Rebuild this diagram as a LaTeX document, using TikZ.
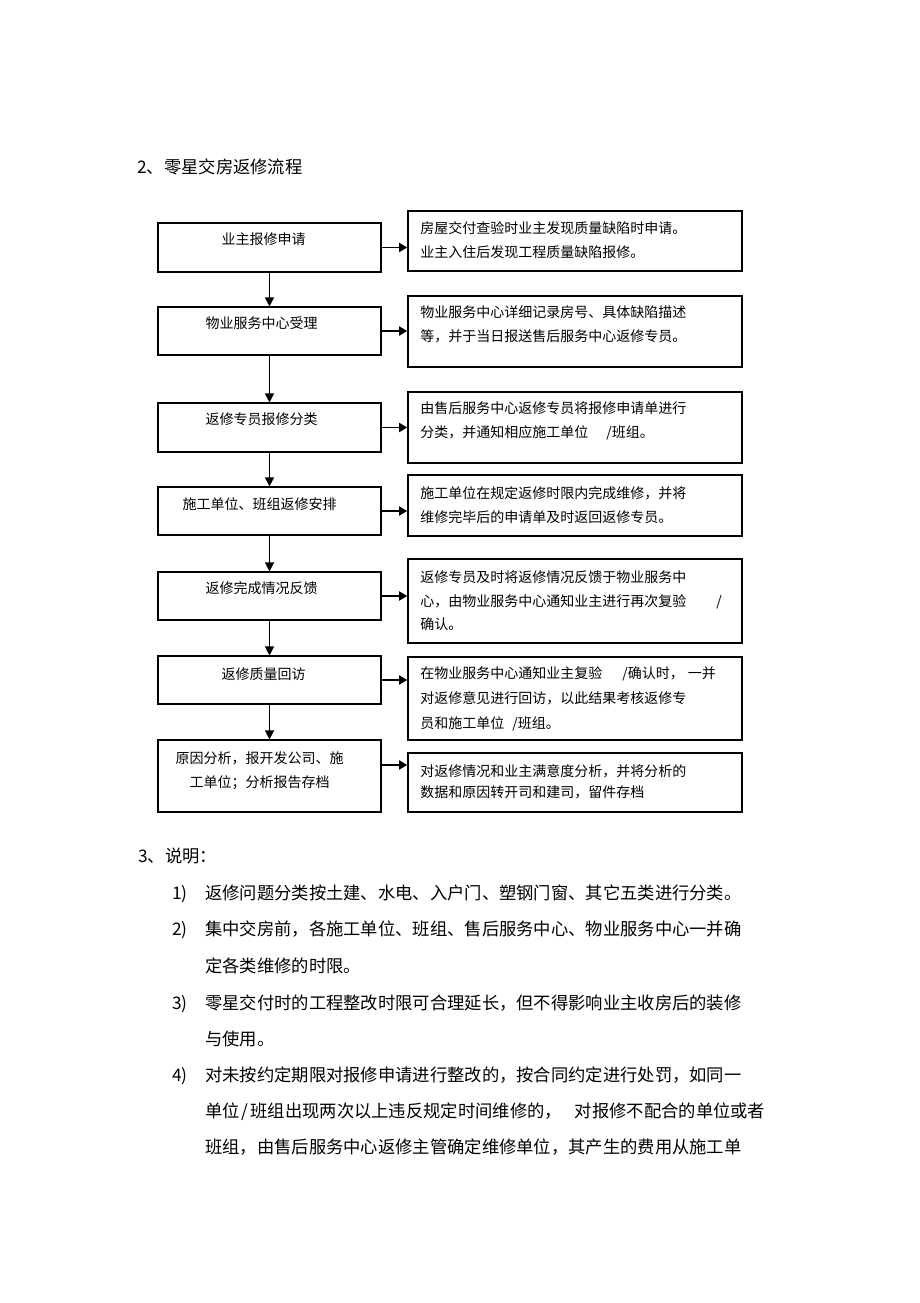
\documentclass[tikz,border=0pt]{standalone}
\usepackage{fontspec}
\setmainfont{Noto Sans CJK SC}
\usetikzlibrary{positioning,arrows.meta}

\tikzset{
  stepbox/.style={draw, line width=1.1pt, minimum width=223pt, inner sep=0pt},
  notebox/.style={draw, line width=1.6pt, minimum width=334pt, inner sep=0pt},
  steptext/.style={font=\fontsize{14pt}{24pt}\selectfont, align=center, inner sep=0pt},
  notetext/.style={font=\fontsize{14pt}{23.5pt}\selectfont, align=left, inner sep=0pt},
  headtext/.style={font=\fontsize{17.3pt}{20pt}\selectfont, inner sep=0pt, anchor=base west},
  downarrow/.style={line width=1.2pt, -{Triangle[length=9pt,width=9pt]}},
  sidearrow/.style={line width=1.8pt, -{Triangle[length=8pt,width=9pt]}}
}

\begin{document}
\begin{tikzpicture}[x=1pt, y=-1pt]
    \useasboundingbox (0,0) rectangle (920,1303);
    \fill [white] (0,0) rectangle (920,1303);

    % Title
    \node [headtext] (title) at (137,173.3) {2、零星交房返修流程};

    % Steps
    \node [stepbox, minimum height=49pt] (l1) at (269.5,247.5) {};
    \node [stepbox, minimum height=48pt] (l2) at (269.5,331) {};
    \node [stepbox, minimum height=49pt] (l3) at (269.5,427.5) {};
    \node [stepbox, minimum height=48pt] (l4) at (269.5,511) {};
    \node [stepbox, minimum height=48pt] (l5) at (269.5,596) {};
    \node [stepbox, minimum height=48pt] (l6) at (269.5,680) {};
    \node [stepbox, minimum height=72pt] (l7) at (269.5,776) {};

    \node [steptext, below=10.4pt of l1.north, xshift=-6pt] (lt1) {业主报修申请};
    \node [steptext, below=10.4pt of l2.north, xshift=-8pt] (lt2) {物业服务中心受理};
    \node [steptext, below=10.4pt of l3.north, xshift=-8pt] (lt3) {返修专员报修分类};
    \node [steptext, below=11.4pt of l4.north, xshift=-10pt] (lt4) {施工单位、班组返修安排};
    \node [steptext, below=10.4pt of l5.north, xshift=-8pt] (lt5) {返修完成情况反馈};
    \node [steptext, below=12.4pt of l6.north, xshift=-6pt] (lt6) {返修质量回访};
    \node [steptext, below=12.4pt of l7.north, xshift=-10pt] (lt7) {原因分析，报开发公司、施\\工单位；分析报告存档};

    % Remarks
    \node [notebox, minimum height=60pt] (r1) at (575,241) {};
    \node [notebox, minimum height=71pt] (r2) at (575,331.5) {};
    \node [notebox, minimum height=71pt] (r3) at (575,427.5) {};
    \node [notebox, minimum height=61pt] (r4) at (575,505.5) {};
    \node [notebox, minimum height=84pt] (r5) at (575,601) {};
    \node [notebox, minimum height=83pt] (r6) at (575,698.5) {};
    \node [notebox, minimum height=59pt] (r7) at (575,782.5) {};

    \node [notetext, below right=11.4pt and 13pt of r1.north west] (rt1) {房屋交付查验时业主发现质量缺陷时申请。\\业主入住后发现工程质量缺陷报修。};
    \node [notetext, below right=10.4pt and 13pt of r2.north west] (rt2) {物业服务中心详细记录房号、具体缺陷描述\\等，并于当日报送售后服务中心返修专员。};
    \node [notetext, below right=10.4pt and 13pt of r3.north west] (rt3) {由售后服务中心返修专员将报修申请单进行\\分类，并通知相应施工单位\hspace{18pt}/班组。};
    \node [notetext, below right=12.4pt and 13pt of r4.north west] (rt4) {施工单位在规定返修时限内完成维修，并将\\维修完毕后的申请单及时返回返修专员。};
    \node [notetext, below right=12.4pt and 13pt of r5.north west] (rt5) {返修专员及时将返修情况反馈于物业服务中\\心，由物业服务中心通知业主进行再次复验\hspace{30pt}/\\确认。};
    \node [notetext, font=\fontsize{14pt}{25pt}\selectfont, below right=10.4pt and 13pt of r6.north west] (rt6) {在物业服务中心通知业主复验\hspace{20pt}/确认时，\hspace{4pt}一并\\对返修意见进行回访，以此结果考核返修专\\员和施工单位\hspace{8pt}/班组。};
    \node [notetext, font=\fontsize{14pt}{21pt}\selectfont, below right=12.4pt and 13pt of r7.north west] (rt7) {对返修情况和业主满意度分析，并将分析的\\数据和原因转开司和建司，留件存档};

    % Flow
    \draw [downarrow] (l1) -- (l2);
    \draw [downarrow] (l2) -- (l3);
    \draw [downarrow] (l3) -- (l4);
    \draw [downarrow] (l4) -- (l5);
    \draw [downarrow] (l5) -- (l6);
    \draw [downarrow] (l6) -- (l7);

    \draw [sidearrow] (l1.east) -- (l1.east -| r1.west);
    \draw [sidearrow] (l2.east) -- (l2.east -| r2.west);
    \draw [sidearrow] (l3.east) -- (l3.east -| r3.west);
    \draw [sidearrow] (l4.east) -- (l4.east -| r4.west);
    \draw [sidearrow] (l5.east) -- (l5.east -| r5.west);
    \draw [sidearrow] (l6.east) -- (l6.east -| r6.west);
    \coordinate (h7) at ([yshift=11pt]l7.east);
    \draw [sidearrow] (h7) -- (h7 -| r7.west);

    % Notes
    \node [headtext] (note) at (138,862.4) {3、说明：};
    \node [headtext] (n1) at (172,899.4) {1)};
    \node [headtext] (n1a) at (205,899.4) {返修问题分类按土建、水电、入户门、塑钢门窗、其它五类进行分类。};
    \node [headtext] (n2) at (172,935.4) {2)};
    \node [headtext] (n2a) at (205,935.4) {集中交房前，各施工单位、班组、售后服务中心、物业服务中心一并确};
    \node [headtext] (n2b) at (205,972.4) {定各类维修的时限。};
    \node [headtext] (n3) at (172,1009.4) {3)};
    \node [headtext] (n3a) at (205,1009.4) {零星交付时的工程整改时限可合理延长，但不得影响业主收房后的装修};
    \node [headtext] (n3b) at (205,1045.4) {与使用。};
    \node [headtext] (n4) at (172,1081.4) {4)};
    \node [headtext] (n4a) at (205,1081.4) {对未按约定期限对报修申请进行整改的，按合同约定进行处罚，如同一};
    \node [headtext] (n4b) at (205,1117.4) {单位\hspace{2pt}/\hspace{2pt}班组出现两次以上违反规定时间维修的，\hspace{13pt}对报修不配合的单位或者};
    \node [headtext] (n4c) at (205,1153.4) {班组，由售后服务中心返修主管确定维修单位，其产生的费用从施工单};
\end{tikzpicture}
\end{document}
